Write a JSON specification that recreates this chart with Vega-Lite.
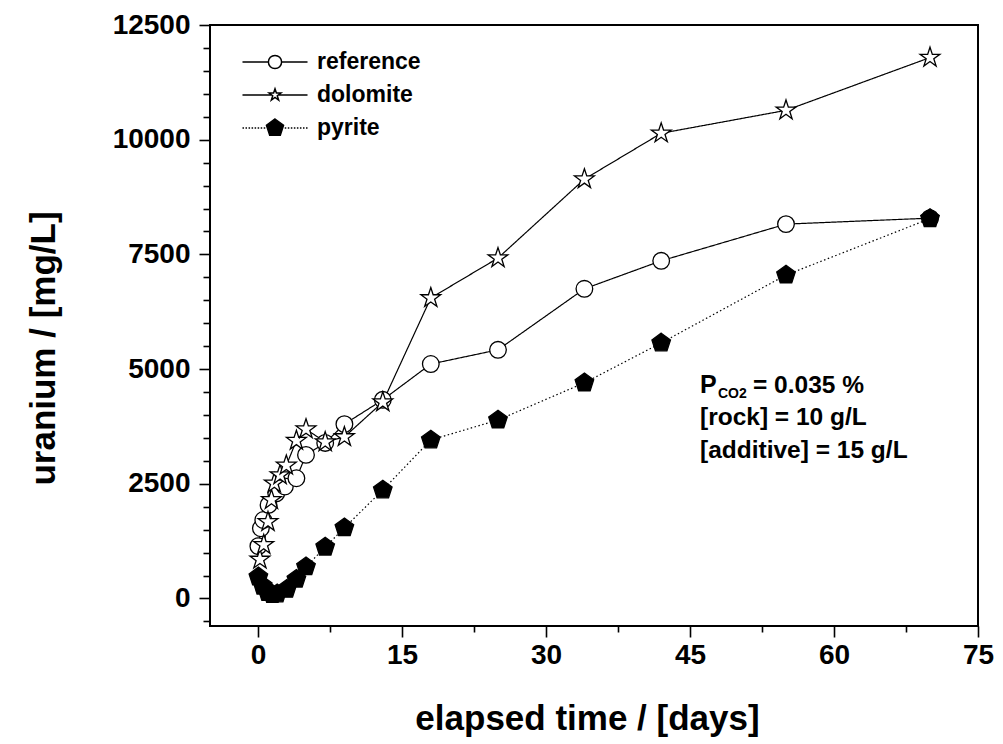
{
  "$schema": "https://vega.github.io/schema/vega-lite/v6.json",
  "width": 768,
  "height": 601,
  "autosize": {"type": "none"},
  "padding": {"left": 210, "top": 25, "right": 25, "bottom": 118},
  "background": "white",
  "config": {
    "view": {"stroke": "black", "strokeWidth": 2},
    "font": "Liberation Sans",
    "axis": {"grid": false, "domain": false, "tickColor": "black", "tickWidth": 1.6, "labelColor": "black", "titleColor": "black", "labelFont": "Liberation Sans", "titleFont": "Liberation Sans", "labelFontWeight": "bold", "titleFontWeight": "bold", "labelOverlap": false, "labelFlush": false}
  },
  "data": {
    "values": [
      {"series": "reference", "t": 0.04, "u": 1140},
      {"series": "reference", "t": 0.3, "u": 1530},
      {"series": "reference", "t": 0.55, "u": 1710},
      {"series": "reference", "t": 1.1, "u": 2040},
      {"series": "reference", "t": 1.9, "u": 2290},
      {"series": "reference", "t": 2.8, "u": 2440},
      {"series": "reference", "t": 4, "u": 2620},
      {"series": "reference", "t": 5, "u": 3130},
      {"series": "reference", "t": 7, "u": 3390},
      {"series": "reference", "t": 9, "u": 3800},
      {"series": "reference", "t": 13, "u": 4330},
      {"series": "reference", "t": 18, "u": 5110},
      {"series": "reference", "t": 25, "u": 5420},
      {"series": "reference", "t": 34, "u": 6750},
      {"series": "reference", "t": 42, "u": 7360},
      {"series": "reference", "t": 55, "u": 8160},
      {"series": "reference", "t": 70, "u": 8290},
      {"series": "dolomite", "t": 0.2, "u": 850},
      {"series": "dolomite", "t": 0.6, "u": 1170},
      {"series": "dolomite", "t": 1.04, "u": 1670},
      {"series": "dolomite", "t": 1.4, "u": 2150},
      {"series": "dolomite", "t": 1.7, "u": 2510},
      {"series": "dolomite", "t": 2.3, "u": 2690},
      {"series": "dolomite", "t": 2.95, "u": 2900},
      {"series": "dolomite", "t": 4, "u": 3440},
      {"series": "dolomite", "t": 5, "u": 3690},
      {"series": "dolomite", "t": 7, "u": 3410},
      {"series": "dolomite", "t": 9, "u": 3520},
      {"series": "dolomite", "t": 13, "u": 4280},
      {"series": "dolomite", "t": 18, "u": 6550},
      {"series": "dolomite", "t": 25, "u": 7420},
      {"series": "dolomite", "t": 34, "u": 9140},
      {"series": "dolomite", "t": 42, "u": 10140},
      {"series": "dolomite", "t": 55, "u": 10640},
      {"series": "dolomite", "t": 70, "u": 11790},
      {"series": "pyrite", "t": 0.04, "u": 470},
      {"series": "pyrite", "t": 0.5, "u": 270},
      {"series": "pyrite", "t": 1, "u": 130},
      {"series": "pyrite", "t": 1.5, "u": 90},
      {"series": "pyrite", "t": 2, "u": 100},
      {"series": "pyrite", "t": 3, "u": 200},
      {"series": "pyrite", "t": 4, "u": 420},
      {"series": "pyrite", "t": 5, "u": 690},
      {"series": "pyrite", "t": 7, "u": 1120},
      {"series": "pyrite", "t": 9, "u": 1540},
      {"series": "pyrite", "t": 13, "u": 2365},
      {"series": "pyrite", "t": 18, "u": 3455},
      {"series": "pyrite", "t": 25, "u": 3890},
      {"series": "pyrite", "t": 34, "u": 4700},
      {"series": "pyrite", "t": 42, "u": 5570},
      {"series": "pyrite", "t": 55, "u": 7050},
      {"series": "pyrite", "t": 70, "u": 8280}
    ]
  },
  "layer": [
    {
      "mark": {"type": "line", "color": "black", "strokeWidth": 1.2},
      "encoding": {
        "x": {
          "field": "t", "type": "quantitative",
          "scale": {"domain": [-5, 75], "nice": false, "zero": false},
          "axis": {
            "orient": "bottom",
            "values": [0, 15, 30, 45, 60, 75],
            "format": "d",
            "tickSize": 11,
            "labelFontSize": 28, "labelPadding": 4,
            "title": "elapsed time / [days]", "titleFontSize": 35,
            "titleX": 377, "titleY": 103, "titleBaseline": "alphabetic", "titleAlign": "center"
          }
        },
        "y": {
          "field": "u", "type": "quantitative",
          "scale": {"domain": [-600, 12500], "nice": false, "zero": false},
          "axis": {
            "orient": "left",
            "values": [0, 2500, 5000, 7500, 10000, 12500],
            "format": "d",
            "tickSize": 11,
            "labelFontSize": 28, "labelPadding": 9,
            "title": "uranium / [mg/L]", "titleFontSize": 35, "titleAngle": -90,
            "titleX": -156, "titleY": 323, "titleBaseline": "alphabetic", "titleAlign": "center"
          }
        },
        "detail": {"field": "series", "type": "nominal"},
        "strokeDash": {"field": "series", "type": "nominal", "scale": {"domain": ["reference", "dolomite", "pyrite"], "range": [[1, 0], [1, 0], [1.5, 2.5]]}, "legend": null}
      }
    },
    {
      "mark": {"type": "point", "filled": true, "stroke": "black", "strokeWidth": 1.3, "opacity": 1, "size": 256},
      "encoding": {
        "x": {"field": "t", "type": "quantitative", "axis": {"orient": "bottom", "values": [7.5, 22.5, 37.5, 52.5, 67.5], "labels": false, "tickSize": 6, "title": null}},
        "y": {"field": "u", "type": "quantitative", "axis": {"orient": "left", "values": [-500, 500, 1000, 1500, 2000, 3000, 3500, 4000, 4500, 5500, 6000, 6500, 7000, 8000, 8500, 9000, 9500, 10500, 11000, 11500, 12000], "labels": false, "tickSize": 7, "title": null}},
        "shape": {"field": "series", "type": "nominal", "scale": {"domain": ["reference", "dolomite", "pyrite"], "range": ["M1.04,0A1.04,1.04,0,1,1,-1.04,0A1.04,1.04,0,1,1,1.04,0Z", "M0,-1.3L0.294,-0.405L1.236,-0.402L0.476,0.155L0.764,1.052L0,0.5L-0.764,1.052L-0.476,0.155L-1.236,-0.402L-0.294,-0.405Z", "M0,-1.22L1.16,-0.377L0.717,0.987L-0.717,0.987L-1.16,-0.377Z"]}, "legend": null},
        "fill": {"field": "series", "type": "nominal", "scale": {"domain": ["reference", "dolomite", "pyrite"], "range": ["white", "white", "black"]}, "legend": null}
      }
    },
    {
      "transform": [{"filter": "datum.t > 1000"}],
      "mark": {"type": "point", "filled": true, "stroke": "black", "strokeWidth": 1.2, "opacity": 1},
      "encoding": {
        "x": {"field": "t", "type": "quantitative", "axis": null},
        "y": {"field": "u", "type": "quantitative", "axis": null},
        "shape": {"field": "series", "type": "nominal", "scale": {"domain": ["reference", "dolomite", "pyrite"], "range": ["M-3,0L-0.61,0M0.61,0L3,0M0.61,0A0.61,0.61,0,1,1,-0.61,0A0.61,0.61,0,1,1,0.61,0Z", "M-3,0L-0.3,0M0.3,0L3,0M0,-0.57L0.129,-0.178L0.542,-0.176L0.209,0.068L0.335,0.461L0,0.22L-0.335,0.461L-0.209,0.068L-0.542,-0.176L-0.129,-0.178Z", "M-3,0h0.14M-2.72,0h0.14M-2.44,0h0.14M-2.16,0h0.14M-1.88,0h0.14M-1.6,0h0.14M-1.32,0h0.14M-1.04,0h0.14M0.9,0h0.14M1.18,0h0.14M1.46,0h0.14M1.74,0h0.14M2.02,0h0.14M2.3,0h0.14M2.58,0h0.14M2.86,0h0.14M0,-0.83L0.789,-0.256L0.488,0.671L-0.488,0.671L-0.789,-0.256Z"]},
          "legend": {"title": null, "orient": "none", "legendX": 53, "legendY": 25, "symbolSize": 470, "labelFont": "Liberation Sans", "labelFontSize": 23, "labelFontWeight": "bold", "labelColor": "black", "labelOffset": 30, "rowPadding": 9, "symbolOffset": 0,
            "encode": {"symbols": {"update": {"stroke": {"value": "black"}, "strokeWidth": {"value": 1.2}, "opacity": {"value": 1}}}}}},
        "fill": {"field": "series", "type": "nominal", "scale": {"domain": ["reference", "dolomite", "pyrite"], "range": ["white", "white", "black"]},
          "legend": {"title": null, "orient": "none", "legendX": 53, "legendY": 25, "symbolSize": 470, "labelFont": "Liberation Sans", "labelFontSize": 23, "labelFontWeight": "bold", "labelColor": "black", "labelOffset": 30, "rowPadding": 9, "symbolOffset": 0,
            "encode": {"symbols": {"update": {"stroke": {"value": "black"}, "strokeWidth": {"value": 1.2}, "opacity": {"value": 1}}}}}}
      }
    },
    {
      "data": {"values": [{"label": "P"}]},
      "mark": {"type": "text", "align": "left", "baseline": "alphabetic", "fontSize": 25, "fontWeight": "bold", "font": "Liberation Sans", "color": "black"},
      "encoding": {"x": {"datum": 46.04, "type": "quantitative", "axis": null}, "y": {"datum": 4478, "type": "quantitative", "axis": null}, "text": {"field": "label"}}
    },
    {
      "data": {"values": [{"label": "CO2"}]},
      "mark": {"type": "text", "align": "left", "baseline": "alphabetic", "fontSize": 14, "fontWeight": "bold", "font": "Liberation Sans", "color": "black", "dx": 18, "dy": 5},
      "encoding": {"x": {"datum": 46.04, "type": "quantitative", "axis": null}, "y": {"datum": 4478, "type": "quantitative", "axis": null}, "text": {"field": "label"}}
    },
    {
      "data": {"values": [{"label": "= 0.035 %"}]},
      "mark": {"type": "text", "align": "left", "baseline": "alphabetic", "fontSize": 24.5, "fontWeight": "bold", "font": "Liberation Sans", "color": "black", "dx": 53},
      "encoding": {"x": {"datum": 46.04, "type": "quantitative", "axis": null}, "y": {"datum": 4478, "type": "quantitative", "axis": null}, "text": {"field": "label"}}
    },
    {
      "data": {"values": [{"label": "[rock] = 10 g/L"}]},
      "mark": {"type": "text", "align": "left", "baseline": "alphabetic", "fontSize": 24.5, "fontWeight": "bold", "font": "Liberation Sans", "color": "black"},
      "encoding": {"x": {"datum": 46.04, "type": "quantitative", "axis": null}, "y": {"datum": 3783, "type": "quantitative", "axis": null}, "text": {"field": "label"}}
    },
    {
      "data": {"values": [{"label": "[additive] = 15 g/L"}]},
      "mark": {"type": "text", "align": "left", "baseline": "alphabetic", "fontSize": 24.5, "fontWeight": "bold", "font": "Liberation Sans", "color": "black"},
      "encoding": {"x": {"datum": 46.04, "type": "quantitative", "axis": null}, "y": {"datum": 3072, "type": "quantitative", "axis": null}, "text": {"field": "label"}}
    }
  ],
  "resolve": {"scale": {"shape": "independent", "fill": "independent"}, "axis": {"x": "independent", "y": "independent"}}
}
